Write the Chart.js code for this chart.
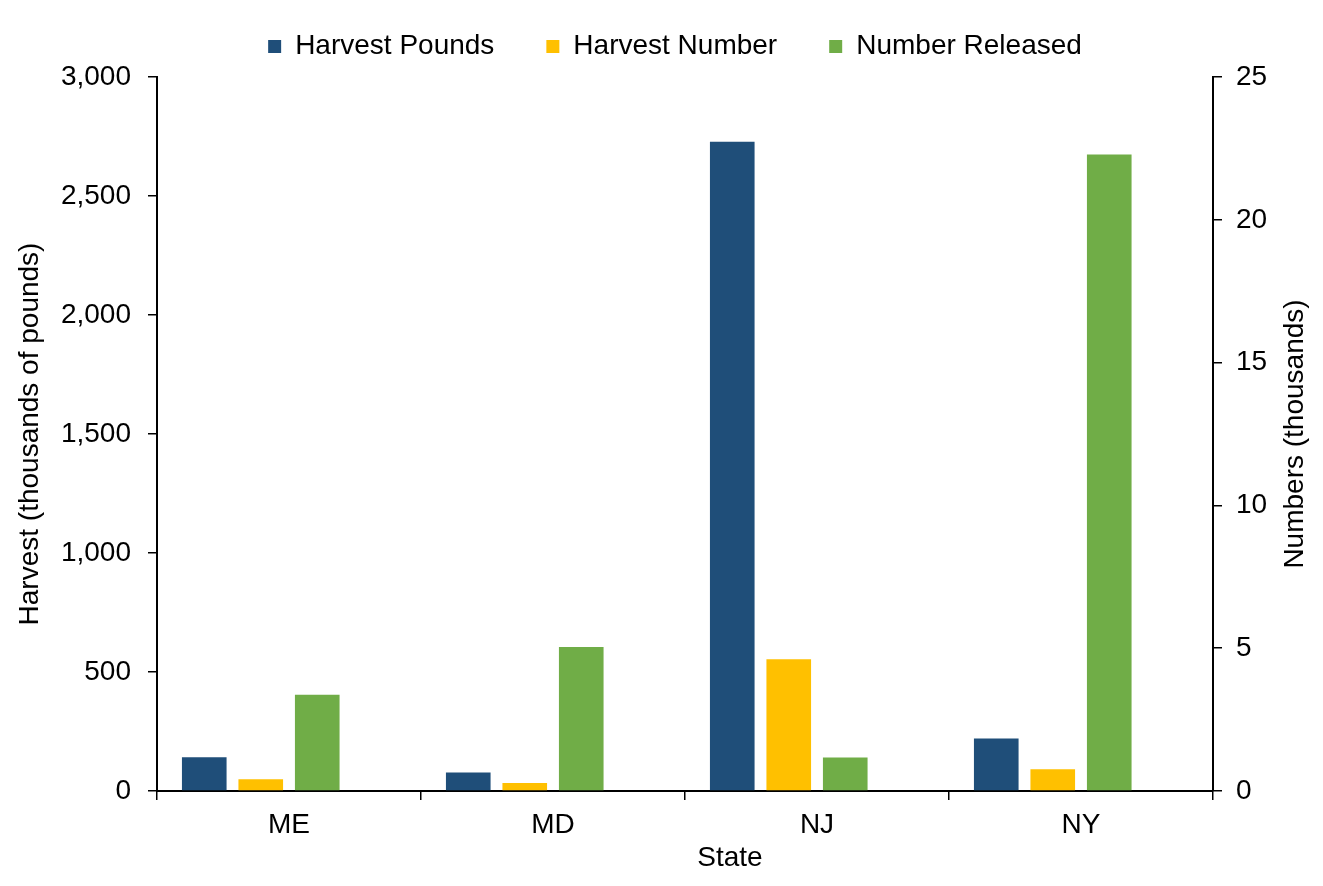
<!DOCTYPE html>
<html lang="en">
<head>
<meta charset="UTF-8">
<title>Harvest by State</title>
<script src="https://cdn.jsdelivr.net/npm/chart.js"></script>
<style>
  html, body { margin: 0; padding: 0; background: #fff; }
  #wrap { width: 1323px; height: 886px; }
</style>
</head>
<body>
<div id="wrap"><canvas id="chart" width="1323" height="886"></canvas></div>
<script>
// data
const states = ['ME', 'MD', 'NJ', 'NY'];
const harvestPounds = [142, 78, 2728, 221];       // thousands of pounds, left axis
const harvestNumber = [0.41, 0.28, 4.61, 0.76];   // thousands, right axis
const numberReleased = [3.37, 5.04, 1.17, 22.29]; // thousands, right axis
const leftTicks = [0, 500, 1000, 1500, 2000, 2500, 3000];
const rightTicks = [0, 5, 10, 15, 20, 25];

const FONT = 'Liberation Sans';
const txt = { family: FONT, size: 28 };

// axis titles drawn by hand (right one reads bottom-to-top like the left one)
const titles = {
  id: 'titles',
  beforeLayout(chart) {
    const lg = chart.legend;
    if (lg && !lg._patched) {
      const fit = lg.fit;
      lg.fit = function () { fit.call(this); this.height = 77; };
      lg._patched = true;
    }
  },
  afterLayout(chart) {
    const lg = chart.legend;
    lg.left = 27; lg.right = 1323; lg.top = -19.5;
  },
  afterDraw(chart) {
    const { ctx, chartArea } = chart;
    const cy = (chartArea.top + chartArea.bottom) / 2;
    ctx.save();
    ctx.font = '28px "' + FONT + '"';
    ctx.fillStyle = '#000';
    ctx.textAlign = 'center';
    ctx.textBaseline = 'middle';
    [['Harvest (thousands of pounds)', 30], ['Numbers (thousands)', 1295]].forEach(([t, x]) => {
      ctx.save();
      ctx.translate(x, cy);
      ctx.rotate(-Math.PI / 2);
      ctx.fillText(t, 0, 0);
      ctx.restore();
    });
    ctx.fillText('State', 730, 858);
    ctx.restore();
  }
};

const axisGrid = { drawOnChartArea: false, tickLength: 9, color: '#000', lineWidth: 1.5 };
const axisBorder = { color: '#000', width: 2 };

new Chart(document.getElementById('chart'), {
  type: 'bar',
  data: {
    labels: states,
    datasets: [
      { label: 'Harvest Pounds', data: harvestPounds, backgroundColor: '#1F4E79', yAxisID: 'y' },
      { label: 'Harvest Number', data: harvestNumber, backgroundColor: '#FFC000', yAxisID: 'y1' },
      { label: 'Number Released', data: numberReleased, backgroundColor: '#70AD47', yAxisID: 'y1' },
      { label: '', data: states.map(() => null), backgroundColor: 'rgba(0,0,0,0)', yAxisID: 'y1' } // empty slot
    ]
  },
  options: {
    responsive: false,
    animation: false,
    devicePixelRatio: 1,
    layout: { padding: 0 },
    datasets: { bar: { barPercentage: 0.79, categoryPercentage: 0.856, borderWidth: 0 } },
    plugins: {
      tooltip: { enabled: false },
      legend: {
        position: 'top',
        labels: {
          boxWidth: 13, boxHeight: 13, padding: 52,
          font: txt, color: '#000',
          filter: item => item.text !== ''
        }
      }
    },
    scales: {
      x: {
        grid: { display: true, drawOnChartArea: false, offset: true, tickLength: 9, color: '#000', lineWidth: 1.5 },
        border: axisBorder,
        ticks: { font: txt, color: '#000', padding: 8 },
        afterFit(s) { s.height = 95; }
      },
      y: {
        position: 'left',
        min: 0, max: 3000,
        afterBuildTicks(s) { s.ticks = leftTicks.map(v => ({ value: v })); },
        ticks: { font: txt, color: '#000', padding: 17, callback: v => v.toLocaleString('en-US') },
        grid: axisGrid,
        border: axisBorder,
        afterFit(s) { s.width = 157; }
      },
      y1: {
        position: 'right',
        min: 0, max: 25,
        afterBuildTicks(s) { s.ticks = rightTicks.map(v => ({ value: v })); },
        ticks: { font: txt, color: '#000', padding: 14 },
        grid: axisGrid,
        border: axisBorder,
        afterFit(s) { s.width = 110; }
      }
    }
  },
  plugins: [titles]
});
</script>
</body>
</html>
